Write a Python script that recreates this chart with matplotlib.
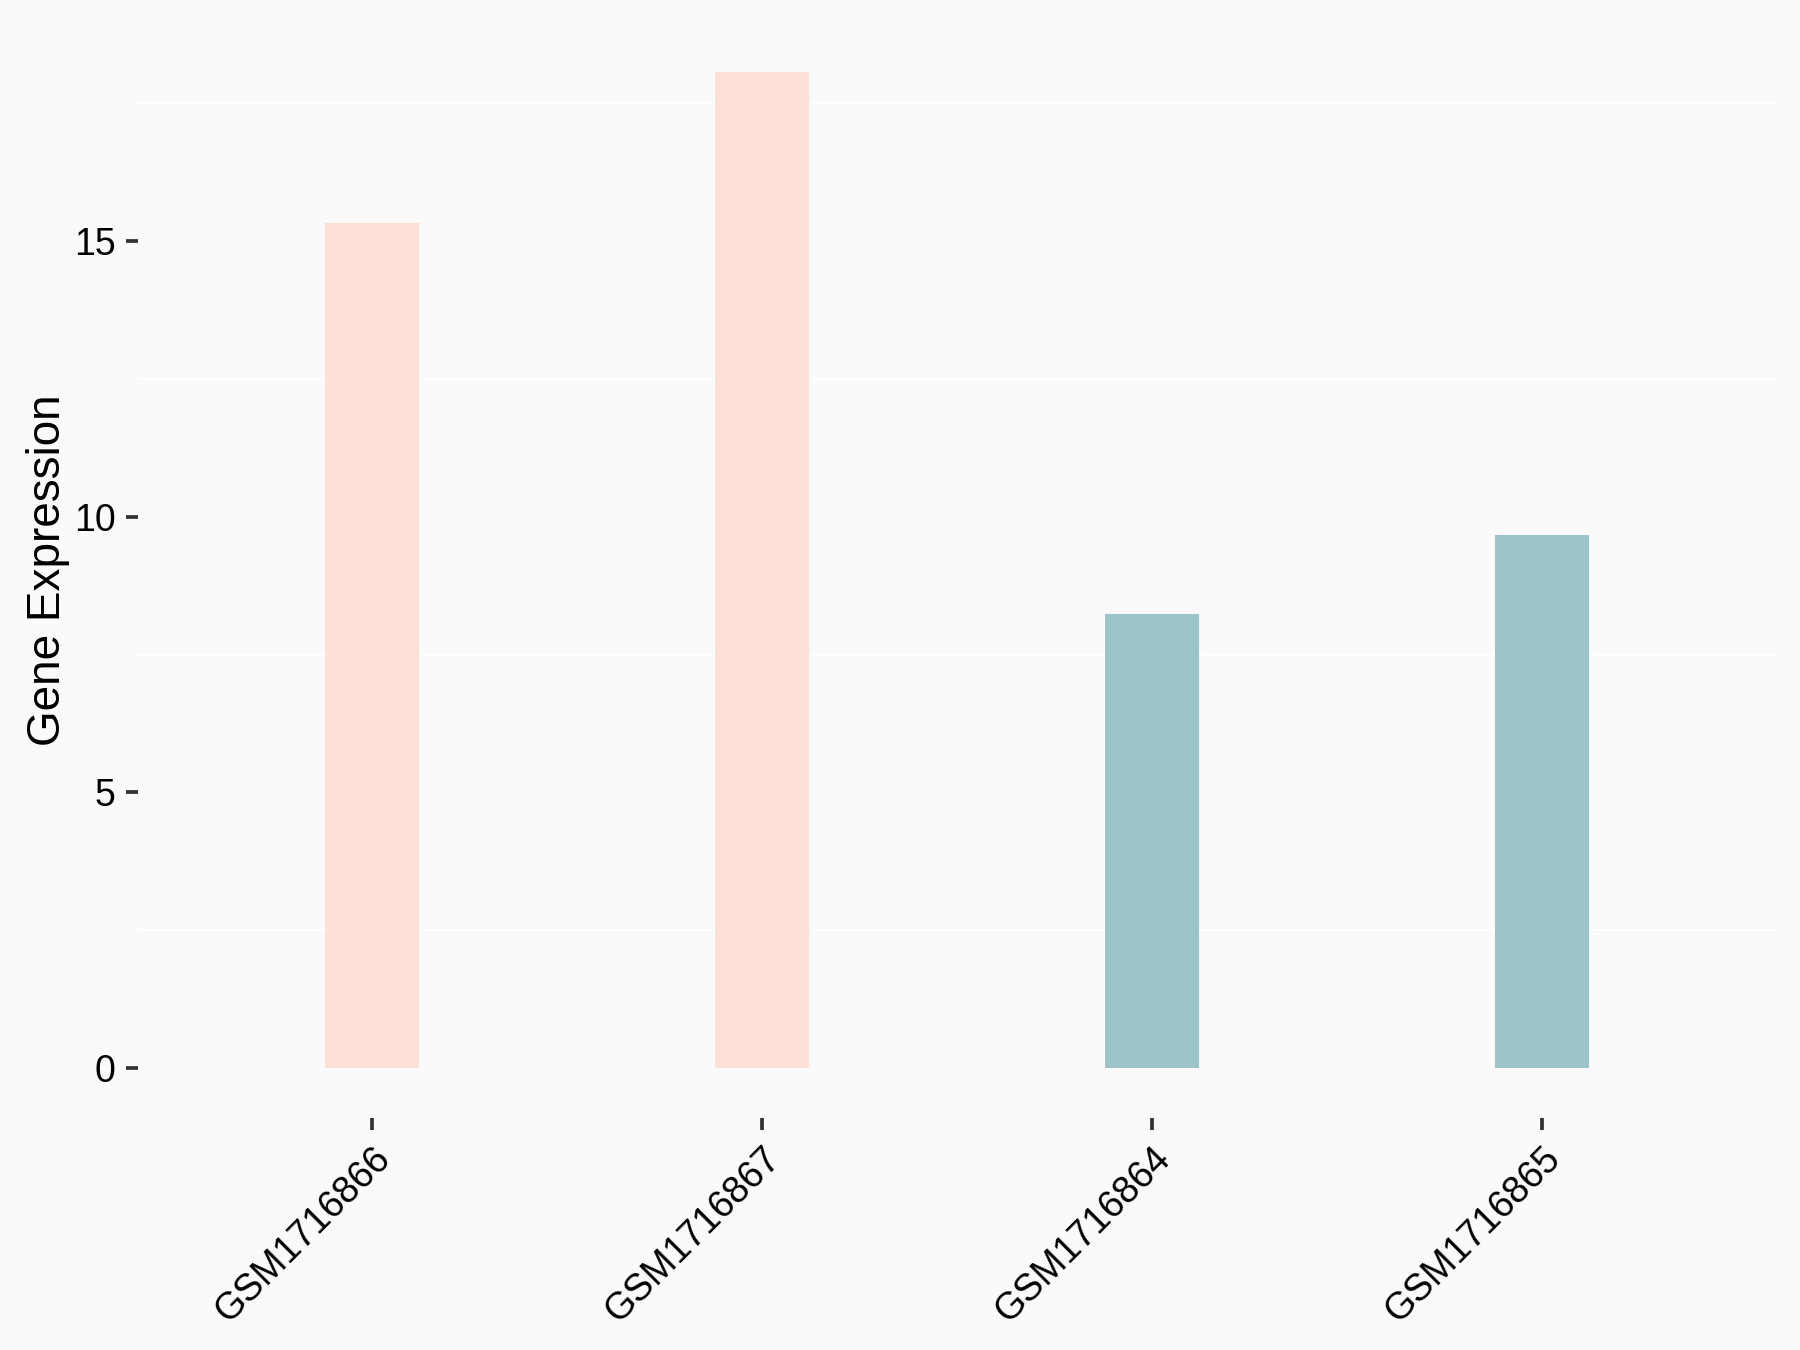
import matplotlib
matplotlib.use("Agg")
import matplotlib.pyplot as plt
import numpy as np

# sample expression values
samples = ["GSM1716866", "GSM1716867", "GSM1716864", "GSM1716865"]
expression = [15.32, 18.07, 8.23, 9.67]
groups = ["A", "A", "B", "B"]
y_ticks = [0, 5, 10, 15]
minor_grid = [2.5, 7.5, 12.5, 17.5]

group_colors = {"A": "#FFE0D6", "B": "#9DC4C8"}

plt.rcParams['font.family'] = ['Liberation Sans', 'DejaVu Sans']

fig = plt.figure(figsize=(6, 4.5), dpi=300, facecolor="#FAFAFA")
ax = fig.add_axes([0.0767, 0.172, 0.910, 0.8117])
ax.set_facecolor("#FAFAFA")

x = np.arange(len(samples))
ax.bar(x, expression, width=0.24, color=[group_colors[g] for g in groups], zorder=2)

# only the minor grid shows, in white
for yv in minor_grid:
    ax.axhline(yv, color="white", linewidth=0.5, zorder=1)

ymax = max(expression)
ax.set_ylim(-0.05 * ymax, 1.05 * ymax)
ax.set_xlim(-0.6, len(samples) - 0.4)

ax.set_yticks(y_ticks)
ax.set_yticklabels([str(v) for v in y_ticks])
ax.set_xticks(x)
ax.set_xticklabels(samples, rotation=45, ha="right", va="top", rotation_mode="anchor")

ax.tick_params(axis="both", length=2.9, width=0.9, color="#333333",
               labelsize=9, labelcolor="black", pad=2.5)

for s in ax.spines.values():
    s.set_visible(False)

ax.set_ylabel("Gene Expression", fontsize=11, color="black", labelpad=1)

plt.savefig("out.png", dpi=300, facecolor=fig.get_facecolor())
